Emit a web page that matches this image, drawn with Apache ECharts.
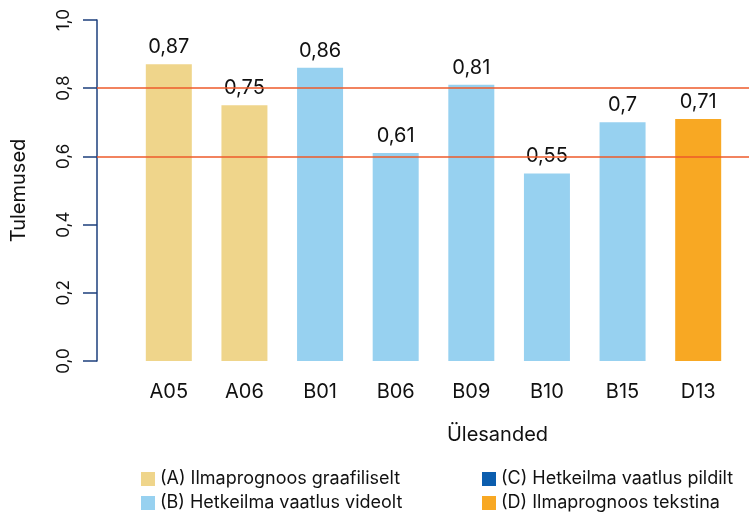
<!DOCTYPE html>
<html><head><meta charset="utf-8">
<script src="https://cdn.jsdelivr.net/npm/echarts@6/dist/echarts.min.js"></script>
<style>html,body{margin:0;padding:0;background:#fff}#c{width:749px;height:512px}</style>
</head><body><div id="c"></div>
<script>
const categories = ['A05','A06','B01','B06','B09','B10','B15','D13'];
const groupOf = ['A','A','B','B','B','B','B','D'];
const values = [0.87,0.75,0.86,0.61,0.81,0.55,0.70,0.71];
const seriesNames = ['(A) Ilmaprognoos graafiliselt','(B) Hetkeilma vaatlus videolt','(C) Hetkeilma vaatlus pildilt','(D) Ilmaprognoos tekstina'];
const seriesKeys = ['A','B','C','D'];
const seriesColors = ['#EFD58B','#97D1F0','#0B5DAE','#F8A823'];
const refLines = [0.6, 0.8];
const yTicks = {min:0, max:1, interval:0.2};

const FONT = 'Inter';
const chart = echarts.init(document.getElementById('c'), null, {renderer:'canvas'});
const fmt = v => String(v).replace('.', ',');

const barSeries = seriesKeys.map((k,i) => ({
  name: seriesNames[i], type:'bar', stack:'all', barWidth:46,
  xAxisIndex:0, yAxisIndex:0,
  itemStyle:{color:seriesColors[i]},
  label:{show:true, position:'top', distance:7, color:'#111', fontFamily:FONT, fontSize:20,
    formatter:p => fmt(p.value)},
  data: values.map((v,j) => groupOf[j]===k ? v : '-')
}));

const legendBase = {orient:'vertical', width:300, height:80, itemWidth:14, itemHeight:14, itemGap:6,
  textStyle:{color:'#111', fontFamily:FONT, fontSize:18}, icon:'rect'};

chart.setOption({
  animation:false,
  textStyle:{fontFamily:FONT},
  grid:[
    {left:131, right:13, top:20, bottom:151},
    {left:97, right:0, top:20, bottom:151}
  ],
  xAxis:[
    {type:'category', gridIndex:0, data:categories,
     axisLine:{show:false}, axisTick:{show:false},
     axisLabel:{color:'#111', fontFamily:FONT, fontSize:20, margin:21},
     name:'Ülesanded', nameLocation:'middle', nameGap:64,
     nameTextStyle:{color:'#111', fontFamily:FONT, fontSize:20, padding:[0,0,0,128]}},
    {type:'value', gridIndex:1, min:0, max:1, show:false}
  ],
  yAxis:[
    {type:'value', gridIndex:0, min:yTicks.min, max:yTicks.max, interval:yTicks.interval, offset:34,
     axisLine:{show:true, lineStyle:{color:'#1C3F7C', width:1.5}},
     axisTick:{show:true, length:14, lineStyle:{color:'#1C3F7C', width:1.5}},
     splitLine:{show:false},
     axisLabel:{rotate:90, margin:25, color:'#111', fontFamily:FONT, fontSize:17,
       formatter:v => v.toFixed(1).replace('.', ',')},
     name:'Tulemused', nameLocation:'middle', nameGap:68,
     nameTextStyle:{color:'#111', fontFamily:FONT, fontSize:20}},
    {type:'value', gridIndex:1, min:0, max:1, show:false}
  ],
  legend:[
    Object.assign({left:136, top:465, data:[seriesNames[0], seriesNames[1]]}, legendBase),
    Object.assign({left:477, top:465, data:[seriesNames[2], seriesNames[3]]}, legendBase)
  ],
  series: barSeries.concat([{
    type:'line', xAxisIndex:1, yAxisIndex:1, data:[], silent:true, z:10,
    markLine:{silent:true, symbol:'none', label:{show:false},
      lineStyle:{color:'#EE5A2A', width:1.6, type:'solid'},
      data: refLines.map(v => ({yAxis:v}))}
  }])
});
</script></body></html>
